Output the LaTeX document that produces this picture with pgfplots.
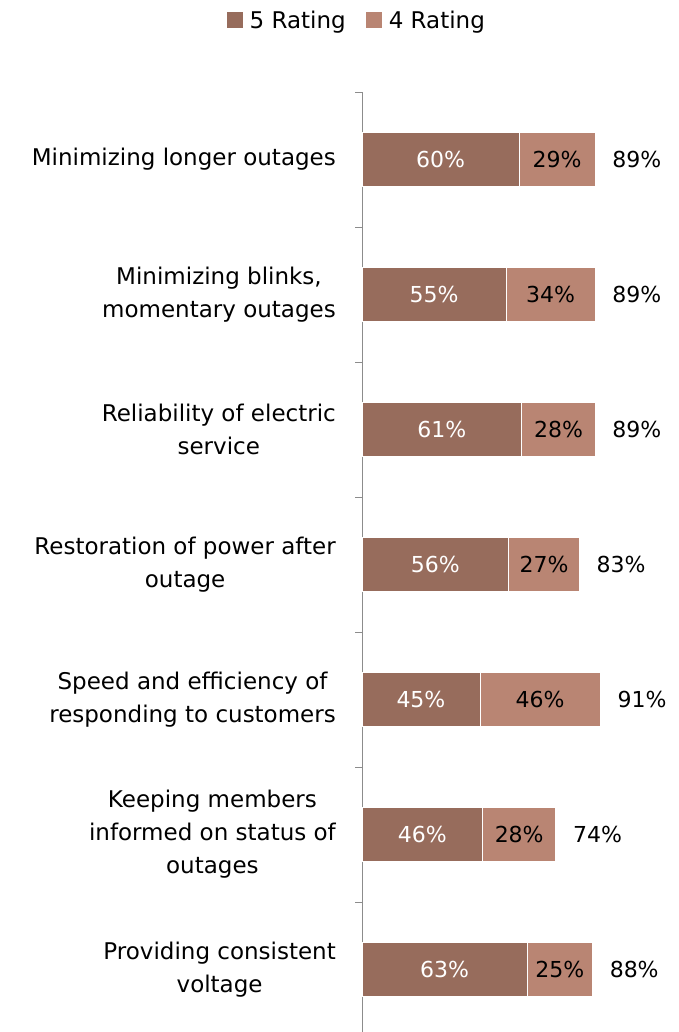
\documentclass[border=0pt]{standalone}
\usepackage{pgfplots}
\usepackage{pgfplotstable}
\pgfplotsset{compat=1.18}
\usepackage{fontspec}
\setmainfont{DejaVu Sans}
\definecolor{dark}{HTML}{976C5C}
\definecolor{light}{HTML}{B98573}
\definecolor{axgray}{HTML}{8C8C8C}
\pgfplotstableread{
y five four total
1 60 29 89
2 55 34 89
3 61 28 89
4 56 27 83
5 45 46 91
6 46 28 74
7 63 25 88
}\data
\pgfkeys{/pgf/number format/assume math mode=true}
\begin{document}
\begin{tikzpicture}
\begin{axis}[
  at={(362pt,-92pt)}, anchor=north west,
  scale only axis, width=262pt, height=945pt,
  xmin=0, xmax=100, ymin=0.5, ymax=7.5, y dir=reverse,
  axis x line=none, axis y line*=left,
  axis line style={axgray, line width=1pt, -},
  ytick={1,...,7},
  yticklabels={{Minimizing longer outages},{Minimizing blinks,\\momentary outages},{Reliability of electric\\service},{Restoration of power after\\outage},{Speed and efficiency of\\responding to customers},{Keeping members\\informed on status of\\outages},{Providing consistent\\voltage}},
  yticklabel style={align=center, font=\fontsize{23}{33}\selectfont, xshift=-26pt, inner sep=0pt},
  major tick length=0pt,
  minor ytick={0.5,1.5,...,7.5},
  minor tick length=7pt,
  tick align=outside,
  minor tick style={axgray, line width=1pt},
  clip=false,
  /pgf/number format/assume math mode=true,
  legend style={at={(-0.02,1.076)}, anchor=center, draw=none, legend columns=2,
    font=\fontsize{23}{26}\selectfont, column sep=0pt,
    /tikz/every odd column/.append style={column sep=5pt},
    /tikz/every even column/.append style={column sep=18pt}},
  legend image code/.code={\fill[#1, draw=none] (0pt,-8pt) rectangle (16pt,8pt);},
]
\addplot[xbar, bar width=54pt, bar shift=0pt, fill=light, draw=white, line width=0.8pt, forget plot] table[x=total, y=y] {\data};
\addplot[xbar, bar width=54pt, bar shift=0pt, fill=dark, draw=white, line width=0.8pt, forget plot] table[x=five, y=y] {\data};
\addplot[draw=none, mark=none, forget plot, nodes near coords={\pgfmathprintnumber{\pgfplotspointmeta}\%},
  point meta=explicit,
  every node near coord/.append style={anchor=center, text=white, font=\fontsize{22}{26}\selectfont}]
  table[x expr=\thisrow{five}/2, y=y, meta=five] {\data};
\addplot[draw=none, mark=none, forget plot, nodes near coords={\pgfmathprintnumber{\pgfplotspointmeta}\%},
  point meta=explicit,
  every node near coord/.append style={anchor=center, text=black, font=\fontsize{22}{26}\selectfont}]
  table[x expr=\thisrow{five}+\thisrow{four}/2, y=y, meta=four] {\data};
\addplot[draw=none, mark=none, forget plot, nodes near coords={\pgfmathprintnumber{\pgfplotspointmeta}\%},
  point meta=explicit,
  every node near coord/.append style={anchor=west, text=black, inner sep=0pt, xshift=17pt, font=\fontsize{22}{26}\selectfont}]
  table[x=total, y=y, meta=total] {\data};
\addlegendimage{fill=dark, draw=none}
\addlegendentry{5 Rating}
\addlegendimage{fill=light, draw=none}
\addlegendentry{4 Rating}
\end{axis}
\pgfresetboundingbox
\useasboundingbox (0,0) rectangle (678pt,-1032pt);
\end{tikzpicture}
\end{document}
